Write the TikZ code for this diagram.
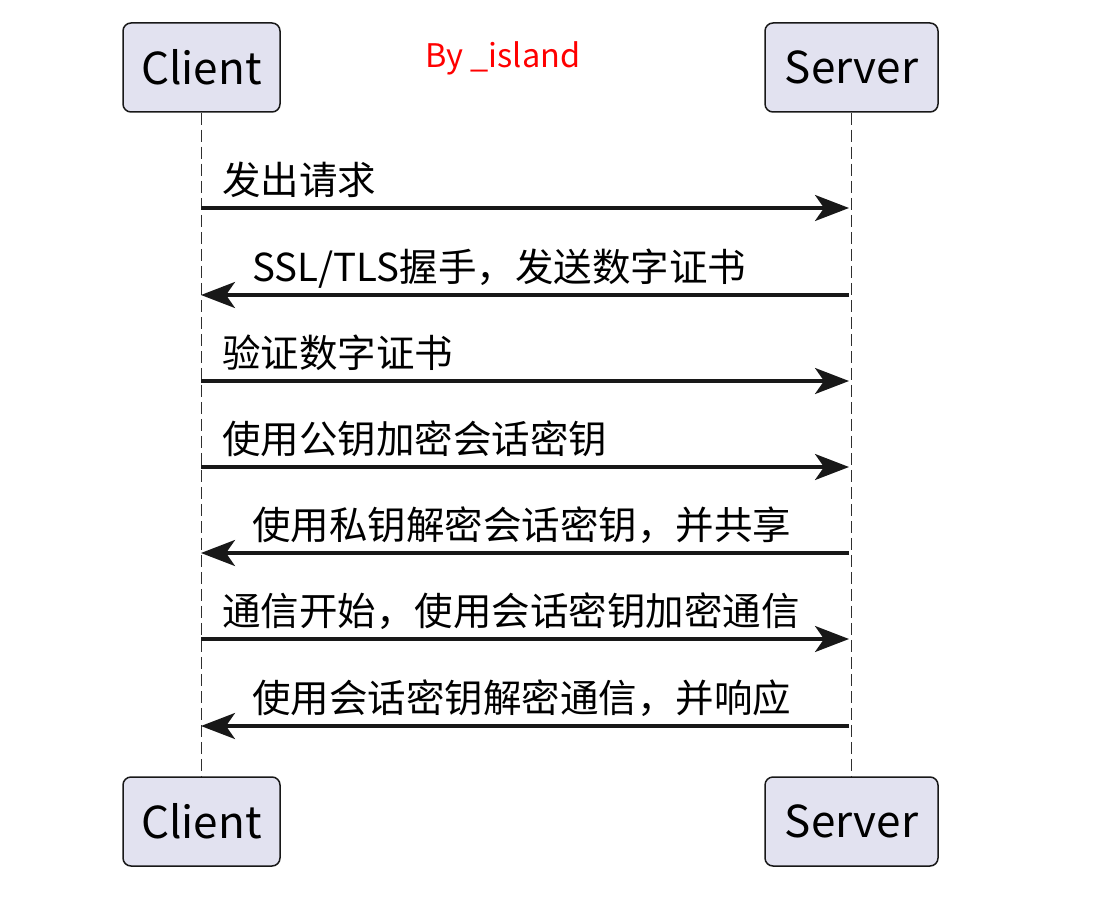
\documentclass[tikz,border=0pt]{standalone}
\usepackage{fontspec}
\setmainfont{Noto Sans CJK SC}
\usetikzlibrary{arrows.meta}
\definecolor{boxfill}{HTML}{E2E2F0}
\definecolor{boxline}{HTML}{181818}
\definecolor{byred}{HTML}{FF0000}
\tikzset{
  part/.style={draw=boxline, fill=boxfill, line width=1.5pt, rounded corners=8pt, minimum height=89pt, inner sep=0pt, font=\fontsize{44}{44}\selectfont, text=black},
  life/.style={draw=boxline!90, line width=1.6pt, dash pattern=on 12pt off 5pt},
  msg/.style={draw=boxline, line width=3.2pt, -{Stealth[length=34pt,width=26pt,inset=9pt]}},
  lbl/.style={font=\fontsize{38.5}{38.5}\selectfont, inner sep=0pt, anchor=base west, text=black}
}
\begin{document}
\begin{tikzpicture}[x=1pt,y=-1pt]
\useasboundingbox (0,0) rectangle (1107,896);
\node[part, minimum width=157pt] (ct) at (201.5,67.5) {Client};
\node[part, minimum width=173pt] (st) at (851.5,67.5) {Server};
\node[part, minimum width=157pt] (cb) at (201.5,821.5) {Client};
\node[part, minimum width=173pt] (sb) at (851.5,821.5) {Server};
\node[text=byred, font=\fontsize{32.5}{32.5}\selectfont, inner sep=0pt] (by) at (503,58) {By \_island};
\draw[life] (ct.south) -- (cb.north);
\draw[life] (st.south) -- (sb.north);
% messages
\coordinate (c1) at (201,208); \coordinate (s1) at (849,208);
\coordinate (c2) at (201,295); \coordinate (s2) at (849,295);
\coordinate (c3) at (201,381); \coordinate (s3) at (849,381);
\coordinate (c4) at (201,467); \coordinate (s4) at (849,467);
\coordinate (c5) at (201,553); \coordinate (s5) at (849,553);
\coordinate (c6) at (201,639); \coordinate (s6) at (849,639);
\coordinate (c7) at (201,726); \coordinate (s7) at (849,726);
\draw[msg] (c1) -- (s1);
\draw[msg] (s2) -- (c2);
\draw[msg] (c3) -- (s3);
\draw[msg] (c4) -- (s4);
\draw[msg] (s5) -- (c5);
\draw[msg] (c6) -- (s6);
\draw[msg] (s7) -- (c7);
\node[lbl] (l1) at (222,194) {发出请求};
\node[lbl] (l2) at (252,281) {SSL/TLS握手，发送数字证书};
\node[lbl] (l3) at (222,367) {验证数字证书};
\node[lbl] (l4) at (222,453) {使用公钥加密会话密钥};
\node[lbl] (l5) at (252,539) {使用私钥解密会话密钥，并共享};
\node[lbl] (l6) at (222,625) {通信开始，使用会话密钥加密通信};
\node[lbl] (l7) at (252,712) {使用会话密钥解密通信，并响应};
\end{tikzpicture}
\end{document}
